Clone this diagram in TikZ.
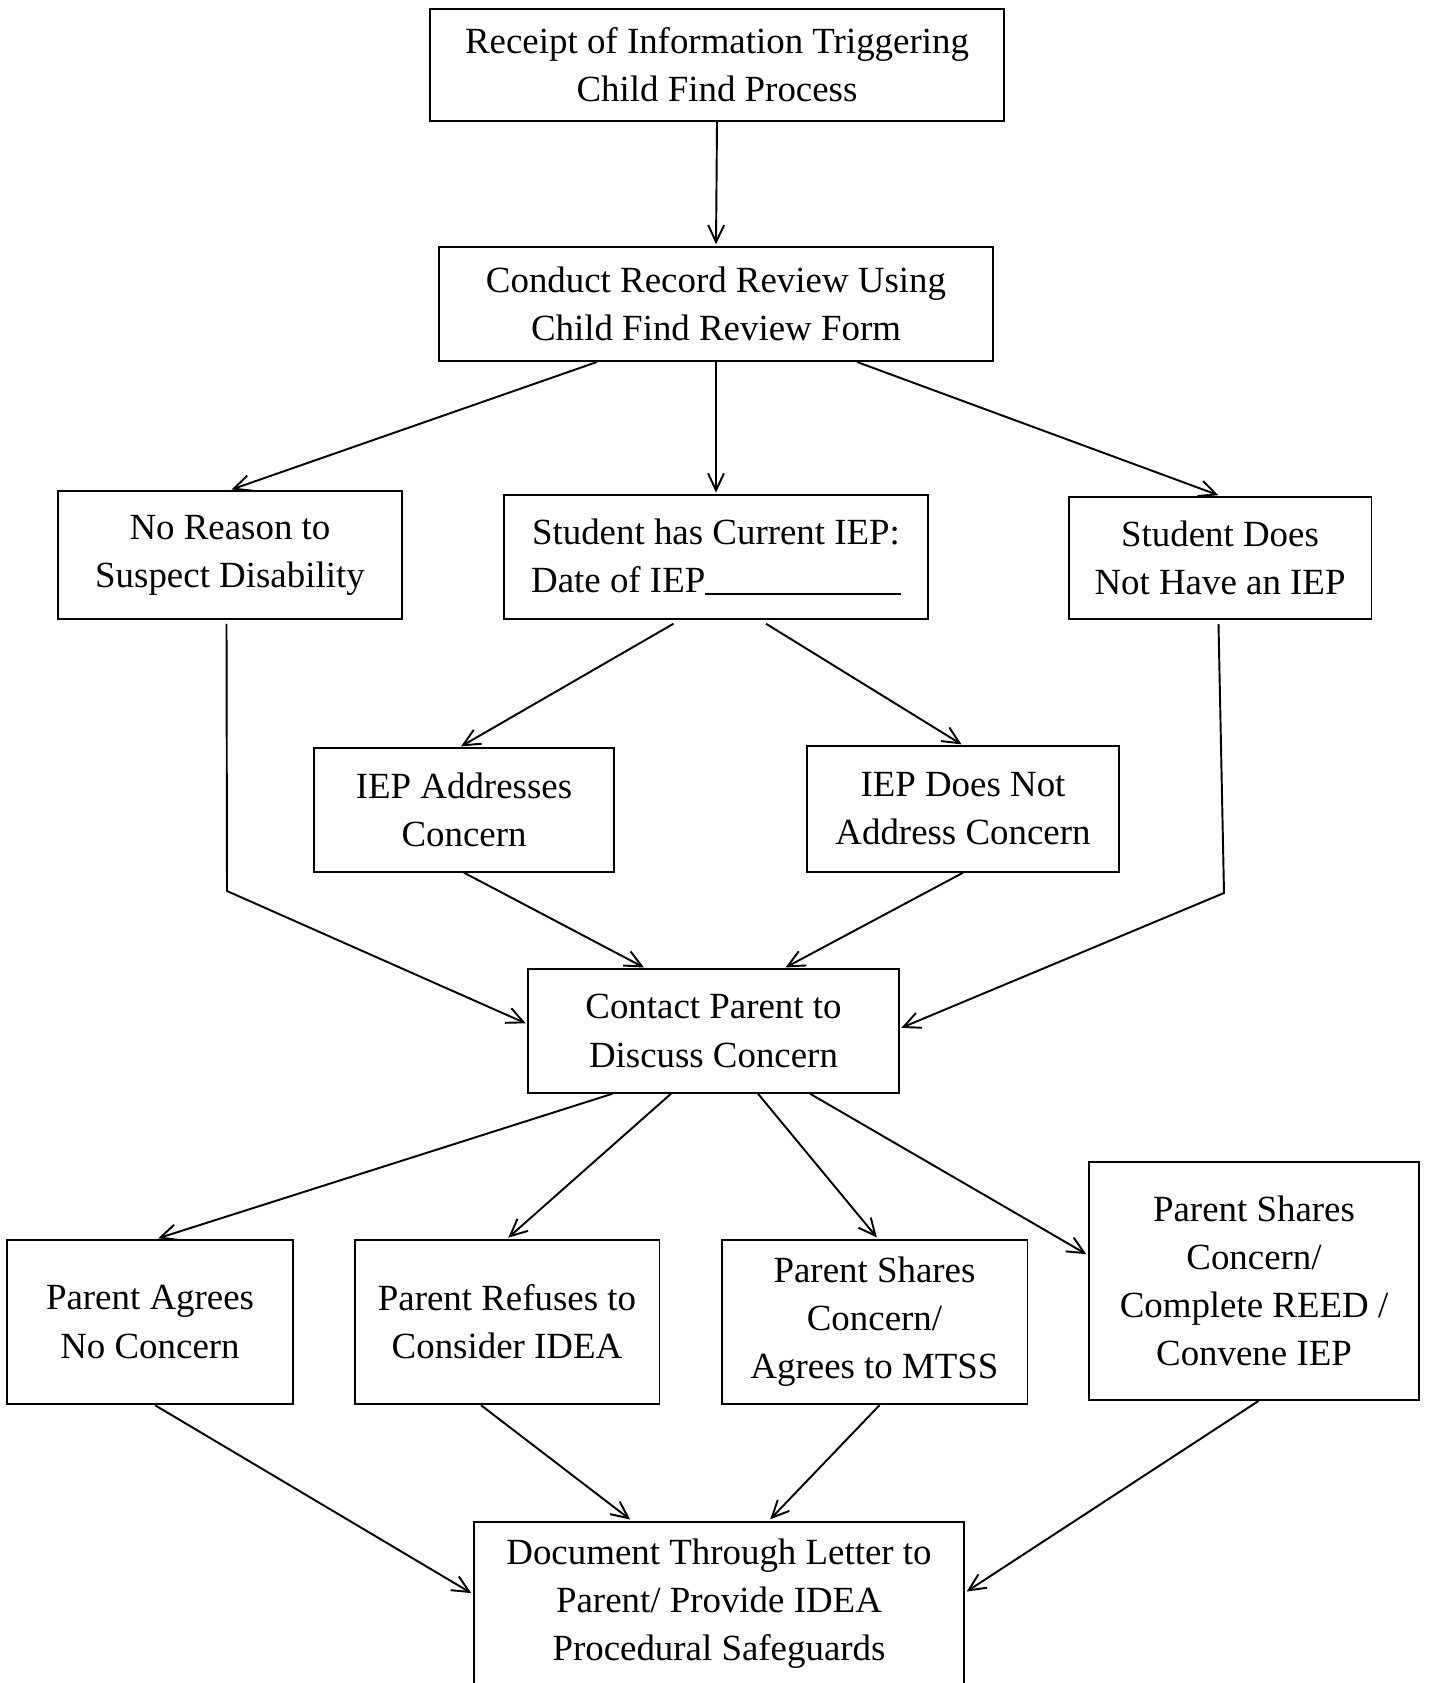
\documentclass[tikz,border=0pt]{standalone}
\usepackage{fontspec}
\setmainfont{Liberation Serif}
\usetikzlibrary{arrows.meta}

\begin{document}
\begin{tikzpicture}[x=0.02cm,y=-0.02cm,-,>={Straight Barb[length=0.34cm,width=0.32cm]},shorten >=1pt,line width=1.1pt,
    box/.style={draw,rectangle,align=center,inner sep=2pt,font=\fontsize{21}{27.4}\selectfont},
    arr/.style={->}]

    \useasboundingbox (0,0) rectangle (1428,1683);
    \clip (0,0) rectangle (1428,1683);

    \node[box,minimum width=11.47cm,minimum height=2.25cm] (rec) at (717,65) {Receipt of Information Triggering\\Child Find Process};
    \node[box,minimum width=11.08cm,minimum height=2.28cm] (crr) at (716,304) {Conduct Record Review Using\\Child Find Review Form};
    \node[box,minimum width=6.87cm,minimum height=2.56cm] (nr) at (230,555) {No Reason to\\Suspect Disability};
    \node[box,minimum width=8.48cm,minimum height=2.47cm] (siep) at (716,557) {Student has Current IEP:\\Date of IEP\rule[-1.5pt]{3.91cm}{1pt}};
    \node[box,minimum width=6.06cm,minimum height=2.45cm] (snot) at (1220,558) {Student Does\\Not Have an IEP};
    \node[box,minimum width=5.99cm,minimum height=2.47cm] (addr) at (464,810) {IEP Addresses\\Concern};
    \node[box,minimum width=6.23cm,minimum height=2.51cm] (inot) at (963,809) {IEP Does Not\\Address Concern};
    \node[box,minimum width=7.41cm,minimum height=2.47cm] (cp) at (713.5,1031) {Contact Parent to\\Discuss Concern};
    \node[box,minimum width=5.71cm,minimum height=3.29cm] (agr) at (150,1322) {Parent Agrees\\No Concern};
    \node[box,minimum width=6.10cm,minimum height=3.29cm] (ref) at (507,1322) {Parent Refuses to\\Consider IDEA};
    \node[box,minimum width=6.12cm,minimum height=3.29cm] (mtss) at (874.5,1322) {Parent Shares\\Concern/\\Agrees to MTSS};
    \node[box,minimum width=6.61cm,minimum height=4.76cm] (reed) at (1254,1281) {Parent Shares\\Concern/\\Complete REED /\\Convene IEP};
    \node[box,minimum width=9.81cm,minimum height=3.30cm] (doc) at (719,1604) {Document Through Letter to\\Parent/ Provide IDEA\\Procedural Safeguards};

    \coordinate (bendl) at (227,891);
    \coordinate (bendr) at (1224,893);

    \path[arr]
        (rec.south) edge (crr.north)
        ([xshift=-2.38cm]crr.south) edge (nr.north)
        (crr.south) edge (siep.north)
        ([xshift=2.82cm]crr.south) edge (snot.north)
        ([xshift=-0.85cm,yshift=-0.08cm]siep.south) edge ([xshift=-0.09cm]addr.north)
        ([xshift=1.0cm,yshift=-0.08cm]siep.south) edge (inot.north)
        (addr.south) edge ([xshift=-1.36cm]cp.north)
        (inot.south) edge ([xshift=1.41cm]cp.north)
        ([xshift=-2.02cm]cp.south) edge ([xshift=0.13cm]agr.north)
        ([xshift=-0.85cm]cp.south) edge (ref.north)
        ([xshift=0.89cm]cp.south) edge ([xshift=0.07cm]mtss.north)
        ([xshift=1.93cm]cp.south) edge ([yshift=0.52cm]reed.west)
        ([xshift=0.1cm]agr.south) edge ([yshift=0.2cm]doc.west)
        ([xshift=-0.52cm]ref.south) edge ([xshift=-1.75cm]doc.north)
        ([xshift=0.1cm]mtss.south) edge ([xshift=1.0cm]doc.north)
        ([xshift=0.09cm]reed.south) edge ([yshift=0.23cm]doc.east)
        ;

    \draw[arr] ([xshift=-0.07cm,yshift=-0.08cm]nr.south) -- (bendl) -- ([yshift=0.14cm]cp.west);
    \draw[arr] ([xshift=-0.03cm,yshift=-0.08cm]snot.south) -- (bendr) -- ([yshift=0.05cm]cp.east);
\end{tikzpicture}
\end{document}
